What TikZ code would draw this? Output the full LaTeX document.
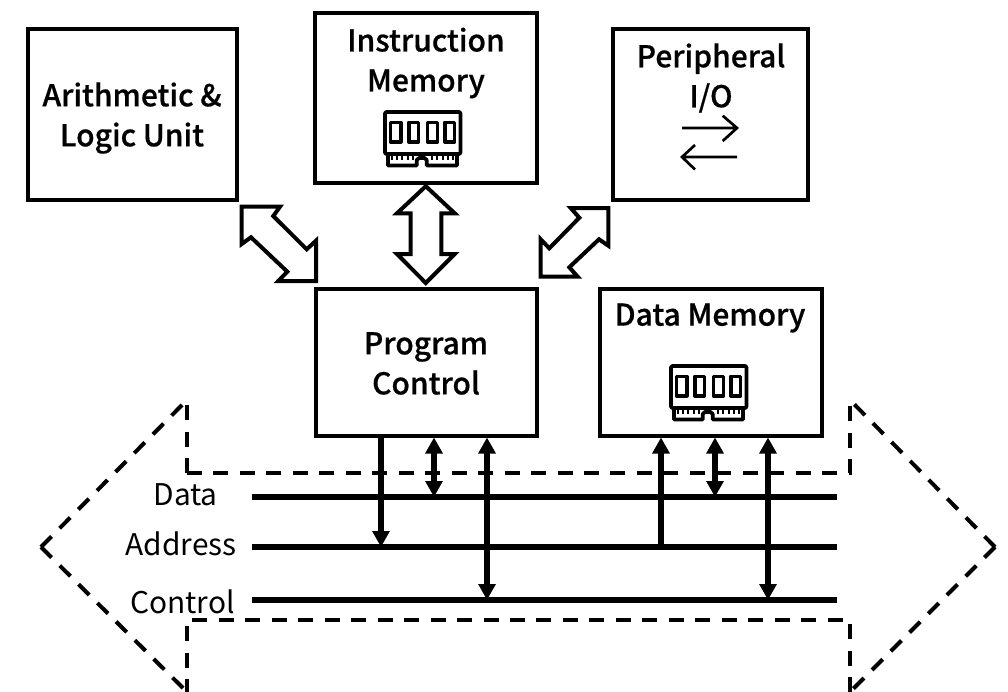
\documentclass[tikz,border=0pt]{standalone}
\usepackage{fontspec}
\setmainfont{Noto Sans CJK SC}[BoldFont={Noto Sans CJK SC Medium},BoldFeatures={FakeBold=0.6}]
\usetikzlibrary{arrows.meta,calc}
\tikzset{
  box/.style={draw,line width=3pt,inner sep=0pt,anchor=north west,align=center},
  title/.style={font=\fontsize{22.5}{30}\selectfont\bfseries,align=center,inner sep=0pt},
  buslabel/.style={font=\fontsize{22.4}{24}\selectfont,inner sep=0pt,anchor=base east},
  bus/.style={line width=4.2pt},
  tap/.style={line width=4.2pt,-{Triangle[length=12pt,width=12.5pt]}},
  taps/.style={line width=4.2pt,{Triangle[length=12pt,width=12.5pt]}-{Triangle[length=12pt,width=12.5pt]}},
  blockarrow/.style={draw,line width=3pt,miter limit=10},
  dashline/.style={draw,line width=3pt,dash pattern=on 11.25pt off 8.6pt},
  chipline/.style={line width=2.8pt,line join=round},
  chip/.pic={
    \draw[chipline,rounded corners=1pt] (2,2) rectangle (77.5,44);
    \draw[chipline] (5,44) -- (5,55.5) -- (33.7,55.5) -- (33.7,50) -- (36,48) -- (41.5,48) -- (43.7,50) -- (43.7,55.5) -- (74,55.5) -- (74,44);
    \foreach \a/\b in {7.5/17.8,25.8/35.5,44.5/54.5,61.8/71.5}{\draw[chipline] (\a,12.5) rectangle (\b,31.8);}
    \foreach \a in {8.7,13.7,19.3,24.7,30.3,48.7,53.7,59.7,65.3,70.3}{\draw[line width=1.5pt] (\a,44) -- (\a,50);}
  }
}
\begin{document}
\begin{tikzpicture}[x=0.75pt,y=-0.75pt]
\useasboundingbox (0,0) rectangle (1008,692);
% dashed arrow outline
\coordinate (tipL) at (41,547);
\coordinate (tipR) at (995,547);
\draw[dashline] (tipL) -- (187,400);
\draw[dashline] (tipL) -- (187,692);
\draw[dashline] (187,473) -- (187,400);
\draw[dashline] (187,473) -- (850,473) -- (850,400);
\draw[dashline] (tipR) -- (850,400);
\draw[dashline] (tipR) -- (850,692);
\draw[dashline] (850,692) -- (850,620) -- (187,620) -- (187,692);
% boxes
\node[box,minimum width=156.4pt,minimum height=128pt] (alu) at (26,27.5) {};
\node[box,minimum width=166.5pt,minimum height=127.5pt] (imem) at (312.5,11.5) {};
\node[box,minimum width=146.25pt,minimum height=128pt] (pio) at (610.5,27.5) {};
\node[box,minimum width=165.75pt,minimum height=110.25pt] (pc) at (313.5,286.5) {};
\node[box,minimum width=166.5pt,minimum height=110.25pt] (dmem) at (597.5,286.5) {};
% titles
\node[title] (alut) at (132,118) {Arithmetic \&\\Logic Unit};
\node[title] (imemt) at (426,63) {Instruction\\Memory};
\node[title] (piot) at (711,78) {Peripheral\\I/O};
\node[title] (pct) at (426,363.5) {Program\\Control};
\node[title] (dmemt) at (710,318) {Data Memory};
% chips
\pic at (383,110) {chip};
\pic at (669,364) {chip};
% peripheral arrows
\coordinate (ra) at (682,128); \coordinate (rb) at (737,128);
\coordinate (la) at (737,157); \coordinate (lb) at (682,157);
\draw[line width=2pt] (ra) -- (rb) (722.7,115.7) -- (rb) -- (722.7,141);
\draw[line width=2pt] (la) -- (lb) (695,145) -- (lb) -- (695,169.5);
% block arrows
\draw[blockarrow] (425.8,186.2) -- (454.7,213.3) -- (441.3,213.3) -- (441.3,254) -- (454.7,254) -- (425.8,283) -- (397,254) -- (410.5,254) -- (410.5,213.3) -- (397,213.3) -- cycle;
\draw[blockarrow] (241.7,206.7) -- (280,206.7) -- (273.3,216) -- (306.7,249.3) -- (316,240.7) -- (316,281) -- (278.3,281) -- (287.3,271.7) -- (251,237.3) -- (241.7,244) -- cycle;
\draw[blockarrow] (608.3,208) -- (608.3,245.7) -- (599,239.3) -- (569.3,267.3) -- (577.7,276.7) -- (540.7,276.7) -- (540.7,239.3) -- (549.3,248.3) -- (579.3,217.7) -- (570.7,208) -- cycle;
% bus
\coordinate (dL) at (252,497); \coordinate (dR) at (837,497);
\coordinate (aL) at (252,547); \coordinate (aR) at (837,547);
\coordinate (cL) at (252,600); \coordinate (cR) at (837,600);
\draw[bus] (dL) -- (dR); \draw[bus] (aL) -- (aR); \draw[bus] (cL) -- (cR);
\node[buslabel] (ldata) at (218,505) {Data};
\node[buslabel] (laddr) at (237,555) {Address};
\node[buslabel] (lctrl) at (235,613) {Control};
% taps
\draw[tap] (pc.south -| 381,0) -- (381,547);
\draw[taps] (pc.south -| 434,0) -- (434,497);
\draw[taps] (pc.south -| 487,0) -- (487,600);
\draw[tap] (661,547) -- (dmem.south -| 661,0);
\draw[taps] (dmem.south -| 715,0) -- (715,497);
\draw[taps] (dmem.south -| 768,0) -- (768,600);
\end{tikzpicture}
\end{document}
